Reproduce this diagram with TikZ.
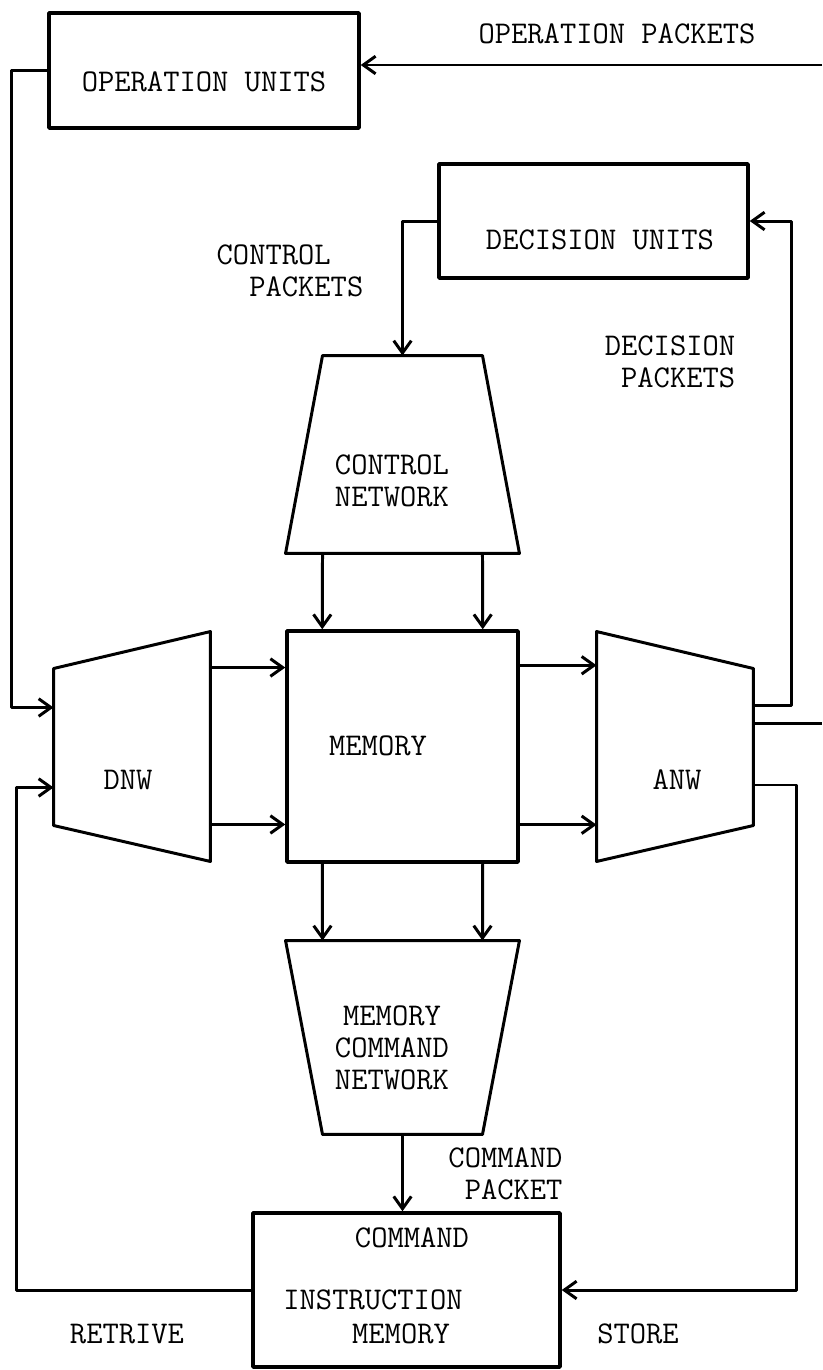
\documentclass[tikz,border=0pt]{standalone}
\usepackage{fontspec}
\usetikzlibrary{arrows.meta,positioning,calc}
\tikzset{
  unitbox/.style={draw, line width=2pt, inner sep=0pt},
  netframe/.style={inner sep=0pt},
  lbl/.style={align=center, inner sep=0pt},
  arr/.style={-{Straight Barb[length=7pt,width=10pt]}},
}

\begin{document}
\begin{tikzpicture}[x=0.02cm, y=-0.02cm, line width=1.7pt, line join=round,
  font=\ttfamily\fontsize{18}{18.2}\selectfont]
\useasboundingbox (0,0) rectangle (822,1370);

% units and memories
\node[unitbox, minimum width=6.2cm, minimum height=2.3cm] (opu) at (204,70.5) {};
\node[unitbox, minimum width=6.18cm, minimum height=2.28cm] (dcu) at (593.5,221) {};
\node[unitbox, minimum width=4.62cm, minimum height=4.62cm] (mem) at (402.5,746.5) {};
\node[unitbox, minimum width=6.14cm, minimum height=3.08cm] (imem) at (406.5,1290) {};

% network frames
\node[netframe, minimum width=4.62cm, minimum height=3.9cm] (cn) at (402.5,454.5) {};
\node[netframe, minimum width=4.62cm, minimum height=3.82cm] (mcn) at (402.5,1037.5) {};
\node[netframe, minimum width=3.08cm, minimum height=4.54cm] (dnw) at (132,746.5) {};
\node[netframe, minimum width=3.08cm, minimum height=4.54cm] (anw) at (675,746.5) {};
\draw (cn.south west) -- ([xshift=0.74cm]cn.north west) -- ([xshift=-0.74cm]cn.north east) -- (cn.south east) -- cycle;
\draw (mcn.north west) -- (mcn.north east) -- ([xshift=-0.74cm]mcn.south east) -- ([xshift=0.74cm]mcn.south west) -- cycle;
\draw (dnw.north east) -- (dnw.south east) -- ([yshift=0.72cm]dnw.south west) -- ([yshift=-0.74cm]dnw.north west) -- cycle;
\draw (anw.north west) -- ([yshift=-0.74cm]anw.north east) -- ([yshift=0.72cm]anw.south east) -- (anw.south west) -- cycle;

% texts
\node[lbl] (opuT) at (204,82) {OPERATION UNITS};
\node[lbl] (dcuT) at (600,240) {DECISION UNITS};
\node[lbl] (memT) at (378,746) {MEMORY};
\node[lbl] (cnT) at (392,481) {CONTROL\\NETWORK};
\node[lbl] (mcnT) at (392,1048) {MEMORY\\COMMAND\\NETWORK};
\node[lbl] (dnwT) at (128,780) {DNW};
\node[lbl] (anwT) at (677,780) {ANW};
\node[lbl] (imemA) at (412,1238) {COMMAND};
\node[lbl] (imemB) at (373,1300) {INSTRUCTION};
\node[lbl] (imemC) at (401,1334) {MEMORY};
\node[lbl] (opP) at (617,34) {OPERATION PACKETS};
\node[lbl, align=left] (ctP) at (290,271) {CONTROL\\\phantom{CO}PACKETS};
\node[lbl, align=right] (dcP) at (670,362) {DECISION\\PACKETS};
\node[lbl, align=right] (cmP) at (505.5,1174) {COMMAND\\PACKET};
\node[lbl] (rtv) at (127,1334) {RETRIVE};
\node[lbl] (sto) at (638,1334) {STORE};

% page edge ends
\coordinate (rimA) at (822,65);
\coordinate (rimB) at (822,723);

% connectors
\draw[arr] (rimA) -- (rimA -| opu.east);
\draw[arr] (opu.west) -- ++(-36,0) |- ([yshift=0.78cm]dnw.west);
\draw[arr] (dcu.west) -| (cn.north);
\draw[arr] ([xshift=0.74cm]cn.south west) -- ([xshift=0.74cm]mem.north west);
\draw[arr] ([xshift=-0.74cm]cn.south east) -- ([xshift=-0.74cm]mem.north east);
\draw[arr] ([yshift=-0.72cm]dnw.north east) -- ([yshift=-0.72cm]dnw.north east -| mem.west);
\draw[arr] ([yshift=0.74cm]dnw.south east) -- ([yshift=0.74cm]dnw.south east -| mem.west);
\draw[arr] ([yshift=-0.72cm]mem.north east) -- ([yshift=-0.72cm]mem.north east -| anw.west);
\draw[arr] ([yshift=0.78cm]mem.south east) -- ([yshift=0.78cm]mem.south east -| anw.west);
\draw[arr] ([xshift=0.74cm]mem.south west) -- ([xshift=0.74cm]mcn.north west);
\draw[arr] ([xshift=-0.74cm]mem.south east) -- ([xshift=-0.74cm]mcn.north east);
\draw[arr] (mcn.south) -- (mcn.south |- imem.north);
\draw[arr] ([yshift=0.83cm]anw.east) -- ++(38,0) |- (dcu.east);
\draw (rimB -| anw.east) -- (rimB);
\draw[arr] ([yshift=-0.77cm]anw.east) -- ++(43,0) |- (imem.east);
\draw[arr] (imem.west) -- ++(-235,0) |- ([yshift=-0.82cm]dnw.west);
\end{tikzpicture}
\end{document}
